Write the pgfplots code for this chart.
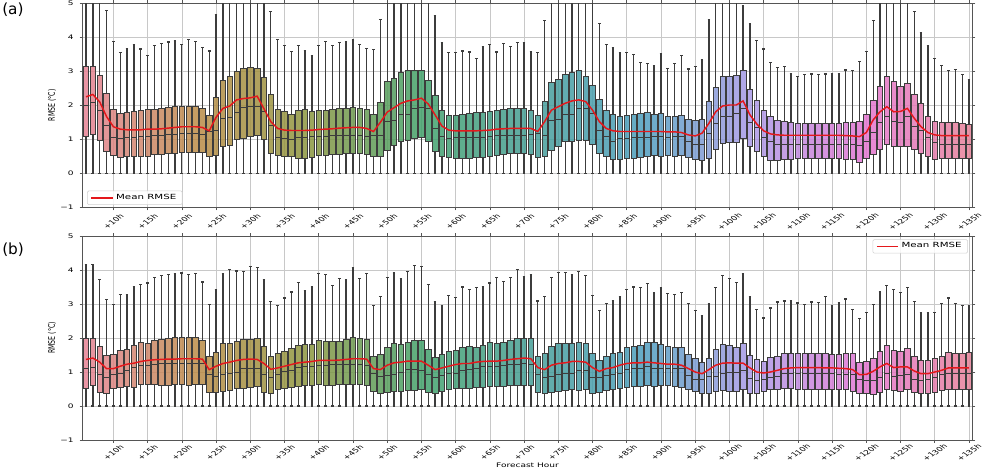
\documentclass[border=0pt]{standalone}
\usepackage{pgfplots}
\pgfplotsset{compat=1.18}
\usepackage{pgfplotstable}
\usepgfplotslibrary{statistics}
\usepackage{graphicx}
\usepackage{fontspec}
\setmainfont{DejaVu Sans}[FakeStretch=1.45]
\newfontfamily\plainsans{DejaVu Sans}

% palette anchors (husl hues, desaturated)
\definecolor{hu0}{RGB}{230,130,148}
\definecolor{hu1}{RGB}{187,140,70}
\definecolor{hu2}{RGB}{140,150,63}
\definecolor{hu3}{RGB}{66,161,105}
\definecolor{hu4}{RGB}{69,158,151}
\definecolor{hu5}{RGB}{76,158,189}
\definecolor{hu6}{RGB}{171,153,231}
\definecolor{hu7}{RGB}{227,116,209}
\definecolor{boxline}{RGB}{60,60,60}
\definecolor{meanred}{RGB}{228,24,28}
\definecolor{gridgray}{RGB}{200,200,200}
\definecolor{spine}{RGB}{85,85,85}

\newcommand\smallfont{\fontsize{4.65}{5.6}\selectfont}
\newcommand\legendfont{\fontsize{5.3}{6.2}\selectfont}
\newcommand\tilted[1]{\scalebox{1.45}[1]{\rotatebox{45}{\plainsans\smallfont #1}}}

% hour, lower whisker, Q1, median, Q3, upper whisker, mean
\pgfplotstableread{
h lo q1 med q3 hi mean
6 0 1.08 2.00 3.14 5.6 2.25
7 0 1.16 2.10 3.16 5.6 2.32
8 0 0.98 1.86 2.88 5.6 2.10
9 0 0.66 1.42 2.35 4.80 1.67
10 0 0.54 1.05 1.88 3.87 1.37
11 0 0.46 1.03 1.76 3.55 1.30
12 0 0.49 1.05 1.79 3.68 1.28
13 0 0.49 1.06 1.81 3.80 1.28
14 0 0.49 1.08 1.86 3.66 1.28
15 0 0.49 1.10 1.88 3.47 1.30
16 0 0.57 1.11 1.89 3.76 1.30
17 0 0.57 1.12 1.91 3.82 1.31
18 0 0.59 1.14 1.94 3.86 1.33
19 0 0.59 1.15 1.96 3.89 1.35
20 0 0.61 1.17 1.98 3.78 1.37
21 0 0.61 1.18 1.98 3.93 1.37
22 0 0.61 1.18 1.97 3.87 1.37
23 0 0.61 1.14 1.91 3.70 1.35
24 0 0.49 1.22 1.72 3.60 1.25
25 0 0.54 1.25 2.24 4.67 1.65
26 0 0.80 1.62 2.75 5.6 1.91
27 0 0.83 1.64 2.84 5.6 1.98
28 0 1.00 1.80 3.00 5.6 2.16
29 0 1.03 1.94 3.10 5.6 2.20
30 0 1.10 1.96 3.12 5.6 2.22
31 0 1.13 1.98 3.09 5.6 2.27
32 0 1.00 1.83 2.82 5.6 1.90
33 0 0.60 1.40 2.32 4.75 1.52
34 0 0.54 1.05 1.88 3.93 1.32
35 0 0.49 1.03 1.81 3.77 1.27
36 0 0.49 1.01 1.73 3.58 1.26
37 0 0.44 1.06 1.86 3.75 1.26
38 0 0.44 1.06 1.88 3.62 1.26
39 0 0.47 1.08 1.83 3.47 1.27
40 0 0.54 1.10 1.86 3.75 1.29
41 0 0.54 1.10 1.86 3.87 1.30
42 0 0.57 1.12 1.88 3.76 1.31
43 0 0.57 1.12 1.90 3.85 1.33
44 0 0.58 1.13 1.92 3.88 1.34
45 0 0.58 1.13 1.93 3.92 1.35
46 0 0.58 1.12 1.92 3.78 1.35
47 0 0.57 1.10 1.88 3.68 1.32
48 0 0.49 1.13 1.74 3.65 1.23
49 0 0.51 1.13 2.10 4.53 1.50
50 0 0.69 1.52 2.70 5.6 1.80
51 0 0.81 1.55 2.80 5.6 1.93
52 0 0.93 1.72 2.96 5.6 2.06
53 0 0.96 1.73 3.02 5.6 2.13
54 0 1.03 1.91 3.04 5.6 2.16
55 0 1.06 1.94 3.02 5.6 2.21
56 0 0.93 1.91 2.75 5.6 2.04
57 0 0.64 1.32 2.28 4.63 1.72
58 0 0.49 1.08 1.86 3.85 1.39
59 0 0.46 1.03 1.72 3.55 1.27
60 0 0.44 1.05 1.72 3.55 1.25
61 0 0.44 1.05 1.74 3.60 1.25
62 0 0.45 1.06 1.76 3.57 1.25
63 0 0.46 1.06 1.78 3.38 1.25
64 0 0.48 1.07 1.80 3.73 1.26
65 0 0.50 1.08 1.81 3.80 1.27
66 0 0.54 1.12 1.86 3.57 1.30
67 0 0.56 1.13 1.88 3.82 1.31
68 0 0.58 1.13 1.90 3.73 1.32
69 0 0.59 1.13 1.91 3.84 1.32
70 0 0.59 1.13 1.91 3.84 1.32
71 0 0.57 1.15 1.86 3.57 1.32
72 0 0.47 1.18 1.72 3.55 1.23
73 0 0.49 1.13 2.13 4.50 1.52
74 0 0.67 1.57 2.67 5.6 1.86
75 0 0.80 1.60 2.77 5.6 1.96
76 0 0.93 1.72 2.92 5.6 2.06
77 0 0.93 1.74 2.96 5.6 2.13
78 0 0.96 1.91 3.02 5.6 2.16
79 0 0.96 1.91 2.86 5.6 2.11
80 0 0.85 1.76 2.58 5.6 1.86
81 0 0.59 1.27 2.19 4.41 1.52
82 0 0.51 1.08 1.86 3.80 1.32
83 0 0.41 0.93 1.74 3.70 1.25
84 0 0.41 1.03 1.67 3.55 1.23
85 0 0.44 1.03 1.72 3.55 1.23
86 0 0.45 1.05 1.74 3.50 1.23
87 0 0.47 1.05 1.76 3.26 1.23
88 0 0.49 1.06 1.78 3.23 1.23
89 0 0.54 1.08 1.74 3.16 1.23
90 0 0.51 1.08 1.75 3.53 1.23
91 0 0.54 1.06 1.67 3.09 1.22
92 0 0.51 1.08 1.69 3.24 1.22
93 0 0.54 1.10 1.72 3.46 1.20
94 0 0.46 0.93 1.59 3.07 1.13
95 0 0.41 0.86 1.57 3.14 1.10
96 0 0.39 0.86 1.60 3.33 1.18
97 0 0.44 1.18 2.11 4.53 1.47
98 0 0.71 1.47 2.53 5.6 1.81
99 0 0.88 1.67 2.86 5.6 1.98
100 0 0.90 1.67 2.86 5.6 2.01
101 0 0.90 1.76 2.89 5.6 2.01
102 0 1.03 1.91 3.02 4.92 2.13
103 0 0.80 1.49 2.47 4.39 1.72
104 0 0.64 1.35 2.15 3.90 1.45
105 0 0.49 1.06 1.86 3.66 1.25
106 0 0.39 0.93 1.69 3.26 1.16
107 0 0.37 0.86 1.55 3.12 1.13
108 0 0.41 0.86 1.52 3.14 1.12
109 0 0.42 0.86 1.50 2.94 1.12
110 0 0.43 0.86 1.48 2.84 1.12
111 0 0.43 0.86 1.47 2.91 1.12
112 0 0.44 0.86 1.47 2.92 1.12
113 0 0.44 0.86 1.48 2.91 1.12
114 0 0.44 0.86 1.48 2.92 1.12
115 0 0.43 0.86 1.48 2.94 1.12
116 0 0.43 0.86 1.48 2.94 1.12
117 0 0.42 0.86 1.50 3.04 1.11
118 0 0.40 0.85 1.49 3.02 1.10
119 0 0.31 0.81 1.52 3.30 1.08
120 0 0.44 0.93 1.74 3.59 1.20
121 0 0.57 1.21 2.14 4.49 1.57
122 0 0.71 1.49 2.57 5.6 1.81
123 0 0.86 1.67 2.84 5.6 1.96
124 0 0.80 1.52 2.70 5.6 1.81
125 0 0.78 1.49 2.57 5.6 1.82
126 0 0.80 1.67 2.65 5.6 1.91
127 0 0.72 1.39 2.33 4.75 1.62
128 0 0.59 1.25 2.06 4.14 1.37
129 0 0.51 1.06 1.67 3.75 1.20
130 0 0.41 0.90 1.54 3.37 1.13
131 0 0.44 0.85 1.49 3.17 1.11
132 0 0.44 0.84 1.49 3.02 1.11
133 0 0.44 0.84 1.49 3.06 1.11
134 0 0.45 0.84 1.48 2.91 1.11
135 0 0.45 0.84 1.45 2.77 1.11
}\dataA

\pgfplotstableread{
h lo q1 med q3 hi mean
6 0 0.53 1.12 1.98 4.16 1.37
7 0 0.61 1.13 2.00 4.16 1.41
8 0 0.41 0.93 1.75 3.73 1.29
9 0 0.38 0.83 1.49 3.14 1.10
10 0 0.53 0.93 1.51 2.99 1.10
11 0 0.56 0.97 1.64 3.27 1.17
12 0 0.59 1.05 1.66 3.27 1.23
13 0 0.56 1.13 1.78 3.52 1.26
14 0 0.63 1.20 1.86 3.57 1.31
15 0 0.63 1.20 1.83 3.62 1.34
16 0 0.64 1.22 1.93 3.79 1.36
17 0 0.62 1.24 1.97 3.83 1.37
18 0 0.62 1.25 1.99 3.87 1.38
19 0 0.63 1.25 2.01 3.89 1.38
20 0 0.63 1.26 2.03 3.91 1.39
21 0 0.62 1.25 2.02 3.86 1.39
22 0 0.63 1.26 2.01 3.89 1.39
23 0 0.64 1.25 1.93 3.65 1.38
24 0 0.41 0.93 1.46 2.99 1.07
25 0 0.39 0.88 1.59 3.42 1.17
26 0 0.43 0.93 1.83 3.89 1.25
27 0 0.46 0.95 1.85 4.01 1.29
28 0 0.51 1.00 1.90 3.97 1.34
29 0 0.51 1.12 1.95 3.96 1.37
30 0 0.54 1.12 1.96 4.11 1.38
31 0 0.58 1.12 1.98 4.07 1.37
32 0 0.41 0.93 1.75 3.72 1.25
33 0 0.36 0.85 1.46 3.08 1.08
34 0 0.48 0.93 1.54 2.96 1.12
35 0 0.53 1.02 1.62 3.18 1.17
36 0 0.56 1.05 1.69 3.35 1.22
37 0 0.59 1.13 1.78 3.63 1.27
38 0 0.61 1.17 1.80 3.40 1.29
39 0 0.61 1.17 1.80 3.50 1.31
40 0 0.63 1.20 1.93 3.89 1.34
41 0 0.61 1.20 1.90 3.86 1.34
42 0 0.61 1.22 1.90 3.55 1.34
43 0 0.63 1.22 1.90 3.75 1.35
44 0 0.64 1.23 1.95 3.72 1.37
45 0 0.64 1.23 2.01 4.06 1.39
46 0 0.64 1.23 1.98 3.75 1.39
47 0 0.61 1.20 1.95 3.90 1.38
48 0 0.43 0.95 1.47 2.96 1.10
49 0 0.36 0.88 1.51 3.21 1.07
50 0 0.39 0.90 1.74 3.77 1.20
51 0 0.44 0.92 1.83 3.91 1.27
52 0 0.44 1.00 1.81 3.76 1.29
53 0 0.46 1.07 1.88 3.96 1.32
54 0 0.46 1.07 1.93 4.13 1.32
55 0 0.48 1.05 1.93 4.11 1.32
56 0 0.41 0.92 1.67 3.58 1.20
57 0 0.36 0.85 1.44 3.06 1.07
58 0 0.44 0.90 1.51 2.96 1.12
59 0 0.48 0.95 1.62 3.24 1.17
60 0 0.51 0.97 1.64 3.19 1.22
61 0 0.53 1.05 1.74 3.50 1.25
62 0 0.53 1.07 1.76 3.43 1.25
63 0 0.56 1.10 1.74 3.48 1.29
64 0 0.56 1.15 1.78 3.52 1.31
65 0 0.58 1.17 1.86 3.62 1.32
66 0 0.58 1.17 1.85 3.77 1.32
67 0 0.59 1.20 1.88 3.67 1.34
68 0 0.61 1.22 1.93 3.77 1.37
69 0 0.61 1.22 1.98 4.02 1.39
70 0 0.61 1.25 2.00 3.81 1.41
71 0 0.61 1.23 2.00 3.86 1.39
72 0 0.41 0.93 1.47 3.09 1.13
73 0 0.36 0.85 1.54 3.21 1.07
74 0 0.41 0.88 1.76 3.77 1.20
75 0 0.43 0.92 1.83 3.92 1.25
76 0 0.46 0.95 1.83 3.92 1.27
77 0 0.48 0.97 1.83 3.87 1.31
78 0 0.46 1.05 1.86 3.96 1.31
79 0 0.48 1.05 1.83 3.84 1.29
80 0 0.36 0.85 1.54 3.25 1.13
81 0 0.41 0.83 1.34 2.81 1.02
82 0 0.46 0.90 1.47 3.01 1.10
83 0 0.48 0.93 1.54 3.11 1.13
84 0 0.51 0.97 1.59 3.23 1.20
85 0 0.56 1.07 1.74 3.42 1.25
86 0 0.58 1.10 1.75 3.50 1.27
87 0 0.59 1.12 1.77 3.48 1.27
88 0 0.61 1.15 1.86 3.60 1.29
89 0 0.59 1.12 1.86 3.32 1.27
90 0 0.61 1.12 1.81 3.47 1.25
91 0 0.61 1.12 1.75 3.30 1.23
92 0 0.59 1.12 1.73 3.27 1.23
93 0 0.56 1.10 1.72 3.34 1.20
94 0 0.48 0.90 1.51 3.01 1.10
95 0 0.43 0.78 1.39 2.81 1.00
96 0 0.36 0.78 1.27 2.65 0.95
97 0 0.36 0.87 1.39 3.01 1.07
98 0 0.43 0.88 1.67 3.48 1.20
99 0 0.46 0.97 1.80 3.84 1.26
100 0 0.44 0.98 1.78 3.75 1.27
101 0 0.44 1.00 1.72 3.63 1.26
102 0 0.48 1.05 1.83 3.89 1.26
103 0 0.36 0.82 1.49 3.21 1.12
104 0 0.38 0.74 1.36 2.83 1.00
105 0 0.44 0.78 1.31 2.59 0.97
106 0 0.48 0.85 1.42 2.88 1.00
107 0 0.48 0.88 1.46 3.06 1.05
108 0 0.51 0.95 1.56 3.09 1.10
109 0 0.51 0.97 1.56 3.09 1.12
110 0 0.50 0.97 1.55 3.03 1.13
111 0 0.50 0.97 1.55 2.98 1.13
112 0 0.50 0.96 1.55 3.06 1.13
113 0 0.50 0.96 1.56 3.04 1.13
114 0 0.49 0.95 1.55 3.21 1.12
115 0 0.49 0.95 1.52 2.96 1.12
116 0 0.49 0.94 1.52 3.04 1.11
117 0 0.48 0.93 1.55 3.15 1.10
118 0 0.44 0.92 1.56 2.83 1.07
119 0 0.36 0.77 1.27 2.57 0.92
120 0 0.36 0.74 1.31 2.76 0.93
121 0 0.34 0.74 1.39 2.98 1.02
122 0 0.41 0.85 1.61 3.35 1.15
123 0 0.48 0.95 1.78 3.55 1.25
124 0 0.46 0.88 1.64 3.42 1.13
125 0 0.44 0.90 1.62 3.33 1.15
126 0 0.48 0.93 1.69 3.48 1.15
127 0 0.39 0.77 1.47 3.08 1.03
128 0 0.36 0.75 1.34 2.76 0.95
129 0 0.38 0.78 1.34 2.74 0.95
130 0 0.41 0.83 1.39 2.76 1.00
131 0 0.46 0.92 1.46 3.01 1.05
132 0 0.48 0.95 1.57 3.18 1.12
133 0 0.48 0.97 1.54 3.01 1.12
134 0 0.48 0.97 1.54 2.96 1.12
135 0 0.48 0.97 1.57 2.96 1.12
}\dataB

% one box per forecast hour, coloured along the husl circle
\newcommand\hourboxes[1]{%
  \pgfplotstablegetrowsof{#1}%
  \pgfmathtruncatemacro\bxLast{\pgfplotsretval-1}%
  \pgfplotsforeachungrouped \bxRow in {0,...,\bxLast}{%
    \pgfplotstablegetelem{\bxRow}{h}\of{#1}\let\bxH\pgfplotsretval
    \pgfplotstablegetelem{\bxRow}{lo}\of{#1}\let\bxLo\pgfplotsretval
    \pgfplotstablegetelem{\bxRow}{q1}\of{#1}\let\bxQa\pgfplotsretval
    \pgfplotstablegetelem{\bxRow}{med}\of{#1}\let\bxMd\pgfplotsretval
    \pgfplotstablegetelem{\bxRow}{q3}\of{#1}\let\bxQc\pgfplotsretval
    \pgfplotstablegetelem{\bxRow}{hi}\of{#1}\let\bxHi\pgfplotsretval
    \pgfmathsetmacro\bxT{8*(\bxH-6)/130}%
    \pgfmathtruncatemacro\bxKa{floor(\bxT)}%
    \pgfmathtruncatemacro\bxKb{mod(\bxKa+1,8)}%
    \pgfmathtruncatemacro\bxPc{round(100*(\bxT-\bxKa))}%
    \edef\bxDo{\noexpand\addplot[hourbox, fill={hu\bxKb!\bxPc!hu\bxKa},
      boxplot prepared={draw position=\bxH, lower whisker=\bxLo,
        lower quartile=\bxQa, median=\bxMd, upper quartile=\bxQc,
        upper whisker=\bxHi}] coordinates {};}%
    \bxDo
  }}

\pgfplotsset{
  /pgf/number format/assume math mode=true,
  hourbox/.style={forget plot, draw=boxline, line width=0.5pt, fill opacity=0.85,
    boxplot/draw direction=y, boxplot/box extend=0.8, boxplot/whisker extend=0.4,
    boxplot/every whisker/.style={draw=boxline, line width=0.95pt},
    boxplot/every median/.style={draw=boxline, line width=0.6pt}},
  rmsepanel/.style={
    scale only axis, width=667.35pt, height=153pt,
    xmin=5.5, xmax=135.5, ymin=-1, ymax=5,
    xtick={10,15,...,135}, ytick={-1,0,...,5},
    yticklabels={−1,0,1,2,3,4,5},
    xticklabel={\tilted{+\pgfmathprintnumber{\tick}h}},
    grid=major, grid style={draw=gridgray, line width=0.45pt},
    axis line style={draw=spine, line width=0.6pt},
    tick align=outside, major tick length=2.2pt,
    tick style={draw=spine, line width=0.5pt},
    tick label style={font=\smallfont},
    yticklabel style={anchor=east, xshift=-1pt},
    ylabel={\scalebox{1.45}[1]{\rotatebox{90}{\plainsans\smallfont RMSE (°C)}}},
    every axis y label/.style={at={(axis description cs:0,0.5)}, anchor=center, xshift=-22.9pt},
    legend cell align=left,
  },
}

\begin{document}
\begin{tikzpicture}
\useasboundingbox (0,0) rectangle (737.25pt,353.25pt);

\begin{axis}[rmsepanel, at={(61.95pt,197.75pt)}, anchor=south west,
  xticklabel style={yshift=-8.4pt, anchor=center},
  legend image code/.code={\draw[#1] (0pt,0pt) -- (16pt,0pt);},
  legend style={at={(axis description cs:0.005,0.012)}, anchor=south west,
    draw=black!18, rounded corners=1pt, fill=white, fill opacity=0.85, text opacity=1,
    font=\legendfont, inner xsep=2.5pt, inner ysep=0.4pt}]
\hourboxes{\dataA}
\addplot[draw=meanred, line width=1.1pt, mark=none] table[x=h, y=mean]{\dataA};
\addlegendentry{Mean RMSE}
\end{axis}

\begin{axis}[rmsepanel, at={(61.95pt,23.25pt)}, anchor=south west,
  xticklabel style={yshift=-7.2pt, anchor=center},
  xlabel={Forecast Hour},
  every axis x label/.style={at={(axis description cs:0.5,0)}, anchor=center,
    yshift=-18.75pt, font=\smallfont},
  legend image code/.code={\draw[#1] (0pt,0pt) -- (16pt,0pt);},
  legend style={at={(axis description cs:0.995,0.984)}, anchor=north east,
    draw=black!18, rounded corners=1pt, fill=white, fill opacity=0.85, text opacity=1,
    font=\legendfont, inner xsep=2.5pt, inner ysep=0.4pt}]
\hourboxes{\dataB}
\addplot[draw=meanred, line width=1.1pt, mark=none] table[x=h, y=mean]{\dataB};
\addlegendentry{Mean RMSE}
\end{axis}

\node[anchor=north west, inner sep=0pt, font=\plainsans\fontsize{11.5}{13}\selectfont]
  at (1.5pt,351pt) {(a)};
\node[anchor=north west, inner sep=0pt, font=\plainsans\fontsize{11.5}{13}\selectfont]
  at (1.5pt,171pt) {(b)};
\end{tikzpicture}
\end{document}
